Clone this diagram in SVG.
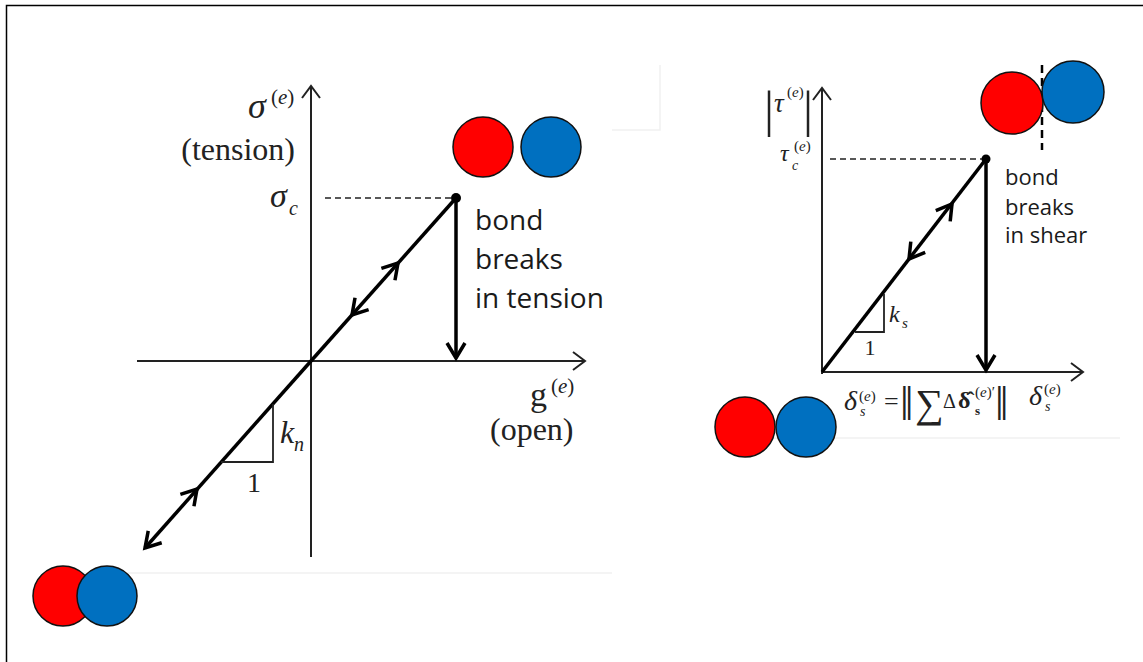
<svg xmlns="http://www.w3.org/2000/svg" width="1143" height="662" viewBox="0 0 1143 662">
<style>
.ax{stroke:#222;stroke-width:2;fill:none}
.th{stroke:#000;stroke-width:3.5;fill:none}
.tri{stroke:#222;stroke-width:1.8;fill:none}
.dash{stroke:#222;stroke-width:1.6;stroke-dasharray:6 4;fill:none}
.m{font-family:"Liberation Serif","DejaVu Serif",serif;fill:#222}
.i{font-style:italic}
.s{font-family:"Open Sans","Liberation Sans",sans-serif;fill:#1a1a1a}
.r{fill:#FF0000;stroke:#111;stroke-width:1.5}
.b{fill:#0070C0;stroke:#111;stroke-width:1.5}
.faint{stroke:#f1f1f1;stroke-width:1.5;fill:none}
</style>
<defs>
<marker id="axh" markerUnits="userSpaceOnUse" markerWidth="30" markerHeight="30" viewBox="-15 -15 30 30" refX="0" refY="0" orient="auto" overflow="visible">
<path d="M-12,-9 L0,0 L-12,9" fill="none" stroke="#222" stroke-width="2"/>
</marker>
<marker id="thh" markerUnits="userSpaceOnUse" markerWidth="40" markerHeight="40" viewBox="-20 -20 40 40" refX="0" refY="0" orient="auto" overflow="visible">
<path d="M-15,-9 L0,0 L-15,9" fill="none" stroke="#000" stroke-width="3.5"/>
</marker>
</defs>
<rect x="0" y="0" width="1143" height="662" fill="#fff"/>
<rect x="6.5" y="5.5" width="1160" height="680" fill="none" stroke="#000" stroke-width="1.5"/>
<g id="image-frames">
<path class="faint" d="M57,573 L612,573 M612,130 L660,130 L660,65"/>
<path class="faint" d="M715,438 L1120,438"/>
</g>
<g id="connectors">
<!-- left chart -->
<line class="ax" x1="311" y1="557" x2="311" y2="86" marker-end="url(#axh)"/>
<line class="ax" x1="137" y1="361" x2="585" y2="361" marker-end="url(#axh)"/>
<line class="dash" x1="325" y1="198" x2="452" y2="198"/>
<line class="th" x1="311" y1="361" x2="456" y2="198"/>
<line class="th" x1="311" y1="361" x2="145" y2="548" marker-end="url(#thh)"/>
<line class="th" x1="456" y1="198" x2="456" y2="358" marker-end="url(#thh)"/>
<path class="th" d="M396.7,264.5 L398,263" marker-end="url(#thh)"/>
<path class="th" d="M353.3,313.5 L352,315" marker-end="url(#thh)"/>
<path class="th" d="M195.7,490.5 L197,489" marker-end="url(#thh)"/>
<path class="tri" d="M221,462 L273,462 L273,404"/>
<circle cx="456" cy="198" r="5" fill="#000"/>
<!-- right chart -->
<line class="ax" x1="822" y1="374" x2="822" y2="88" marker-end="url(#axh)"/>
<line class="ax" x1="821" y1="372" x2="1083" y2="372" marker-end="url(#axh)"/>
<line class="dash" x1="830" y1="159" x2="982" y2="159"/>
<line class="th" x1="822" y1="372" x2="986" y2="159"/>
<line class="th" x1="986" y1="159" x2="986" y2="370" marker-end="url(#thh)"/>
<path class="th" d="M950.8,205.6 L952,204" marker-end="url(#thh)"/>
<path class="th" d="M910.2,257.4 L909,259" marker-end="url(#thh)"/>
<path class="tri" d="M855,332 L884,332 L884,294"/>
<circle cx="986" cy="159" r="4.5" fill="#000"/>
<line x1="1042" y1="65" x2="1042" y2="150" stroke="#000" stroke-width="2.5" stroke-dasharray="8 5"/>
</g>
<g id="pair-tension">
<circle class="r" cx="483" cy="147" r="30"/>
<circle class="b" cx="551" cy="147" r="30"/>
</g>
<g id="pair-compression">
<circle class="r" cx="63" cy="596" r="30"/>
<circle class="b" cx="107" cy="596" r="30"/>
</g>
<g id="pair-shear">
<circle class="r" cx="1012" cy="103" r="31"/>
<circle class="b" cx="1073" cy="92" r="31"/>
</g>
<g id="pair-bonded">
<circle class="r" cx="745" cy="427" r="30"/>
<circle class="b" cx="806" cy="427" r="30"/>
</g>
<g id="left-labels">
<text class="m i" x="248" y="118" font-size="36">σ</text>
<text class="m" x="271" y="104" font-size="21">(<tspan class="i">e</tspan>)</text>
<text class="m" x="295" y="160" font-size="32" text-anchor="end">(tension)</text>
<text class="m i" x="270" y="207" font-size="34">σ</text>
<text class="m i" x="289" y="215" font-size="20">c</text>
<text class="m i" x="280" y="443" font-size="32">k</text>
<text class="m i" x="294" y="451" font-size="20">n</text>
<text class="m" x="254" y="492" font-size="28" text-anchor="middle">1</text>
<text class="m" x="530" y="406" font-size="34">g</text>
<text class="m" x="551" y="393" font-size="21">(<tspan class="i">e</tspan>)</text>
<text class="m" x="490" y="440" font-size="32">(open)</text>
<text class="s" x="475" y="230" font-size="28">bond</text>
<text class="s" x="475" y="269" font-size="28">breaks</text>
<text class="s" x="475" y="308" font-size="28">in tension</text>
</g>
<g id="right-labels">
<text class="m" x="764" y="126" font-size="50">|</text>
<text class="m i" x="774" y="112" font-size="27">τ</text>
<text class="m" x="787" y="97" font-size="15">(<tspan class="i">e</tspan>)</text>
<text class="m" x="803" y="126" font-size="50">|</text>
<text class="m i" x="780" y="161" font-size="24">τ</text>
<text class="m i" x="792" y="170" font-size="14">c</text>
<text class="m" x="794" y="151" font-size="15">(<tspan class="i">e</tspan>)</text>
<text class="m i" x="889" y="322" font-size="24">k</text>
<text class="m i" x="902" y="328" font-size="15">s</text>
<text class="m" x="870" y="355" font-size="22" text-anchor="middle">1</text>
<text class="s" x="1005" y="185" font-size="22">bond</text>
<text class="s" x="1005" y="215" font-size="22">breaks</text>
<text class="s" x="1005" y="243" font-size="22">in shear</text>
<text class="m i" x="844" y="410" font-size="28">δ</text>
<text class="m i" x="860" y="416" font-size="14">s</text>
<text class="m" x="859" y="401" font-size="15">(<tspan class="i">e</tspan>)</text>
<text class="m" x="884" y="410" font-size="26">=</text>
<text class="m" x="900" y="420" font-size="48">‖</text>
<text class="m" x="915" y="417" font-size="40">∑</text>
<text class="m" x="943" y="408" font-size="20">Δ</text>
<text class="m" x="958" y="408" font-size="24" font-weight="bold">δ̂</text>
<text class="m" x="975" y="415" font-size="13" font-weight="bold">s</text>
<text class="m" x="975" y="397" font-size="15">(<tspan class="i">e</tspan>)′</text>
<text class="m" x="995" y="420" font-size="48">‖</text>
<text class="m i" x="1029" y="405" font-size="28">δ</text>
<text class="m i" x="1045" y="411" font-size="14">s</text>
<text class="m" x="1044" y="394" font-size="15">(<tspan class="i">e</tspan>)</text>
</g>
</svg>
